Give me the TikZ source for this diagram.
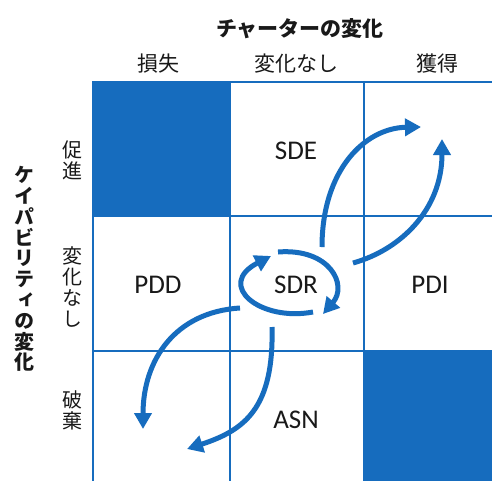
\documentclass[tikz,border=0pt]{standalone}
\usepackage{fontspec}
\usetikzlibrary{arrows.meta}
\setmainfont{Carlito}
\newfontfamily\jp{Noto Sans CJK JP}
\newfontfamily\jpv[RawFeature=+vert]{Noto Sans CJK JP}
\definecolor{mblue}{RGB}{22,108,190}
\definecolor{ink}{RGB}{25,25,25}
\tikzset{
  grid line/.style={draw=mblue, line width=2pt},
  flow/.style={draw=mblue, line width=5pt,
    -{Triangle[length=16pt,width=17pt]}},
  cell label/.style={font=\fontsize{27}{30}\selectfont, text=ink},
  col label/.style={font=\jp\fontsize{21}{24}\selectfont, text=ink},
  row label/.style={font=\jpv\fontsize{20}{21}\selectfont, text=ink, align=center, inner sep=0pt},
  axis title/.style={font=\jp\bfseries\fontsize{21}{22}\selectfont, text=ink},
  axis vtitle/.style={font=\jpv\bfseries\fontsize{20}{20.8}\selectfont, text=ink, align=center, inner sep=0pt},
}
\begin{document}
\begin{tikzpicture}[x=1pt,y=-1pt]
  \useasboundingbox (0,0) rectangle (492,480);
  \fill[white] (0,0) rectangle (492,480);

  % shaded cells
  \fill[mblue] (93,82) rectangle (230,216);
  \fill[mblue] (364,351) rectangle (499,486);

  % matrix grid
  \draw[grid line] (93,486) -- (93,82) -- (499,82);
  \draw[grid line] (230,82) -- (230,486);
  \draw[grid line] (364,82) -- (364,486);
  \draw[grid line] (93,216) -- (499,216);
  \draw[grid line] (93,351) -- (499,351);

  % axis titles
  \node[axis title] (xt) at (300,29) {チャーターの変化};
  \node[axis vtitle] (yt) at (24,269) {ケ\\イ\\パ\\ビ\\リ\\テ\\ィ\\の\\変\\化};

  % column headings
  \node[col label] (c1) at (158,64) {損失};
  \node[col label] (c2) at (296,64) {変化なし};
  \node[col label] (c3) at (437,64) {獲得};

  % row headings
  \node[row label] (r1) at (72,160) {促\\進};
  \node[row label] (r2) at (72,287) {変\\化\\な\\し};
  \node[row label] (r3) at (72,410) {破\\棄};

  % cell contents
  \node[cell label] (sde) at (296,151) {SDE};
  \node[cell label] (pdd) at (158,285) {PDD};
  \node[cell label] (sdr) at (296,285) {SDR};
  \node[cell label] (pdi) at (430,285) {PDI};
  \node[cell label] (asn) at (296,420) {ASN};

  % transition paths
  \coordinate (a1s) at (322,247);  \coordinate (a1e) at (421,127);
  \coordinate (a2s) at (353,263);  \coordinate (a2e) at (442,139);
  \coordinate (a3s) at (240,308);  \coordinate (a3e) at (143,429);
  \coordinate (a4s) at (272,327);  \coordinate (a4e) at (187,449);
  \coordinate (c1s) at (278,252);  \coordinate (c1e) at (323,314);
  \coordinate (c2s) at (313,312);  \coordinate (c2e) at (271,256);

  \draw[flow] (a1s) .. controls (322,170) and (365,128) .. (a1e);
  \draw[flow] (a2s) .. controls (400,250) and (442,210) .. (a2e);
  \draw[flow] (a3s) .. controls (175,312) and (143,360) .. (a3e);
  \draw[flow] (a4s) .. controls (274,408) and (245,430) .. (a4e);

  % loop around SDR
  \draw[flow] (c1s) .. controls (330,248) and (348,285) .. (c1e);
  \draw[flow] (c2s) .. controls (260,322) and (215,285) .. (c2e);
\end{tikzpicture}
\end{document}
